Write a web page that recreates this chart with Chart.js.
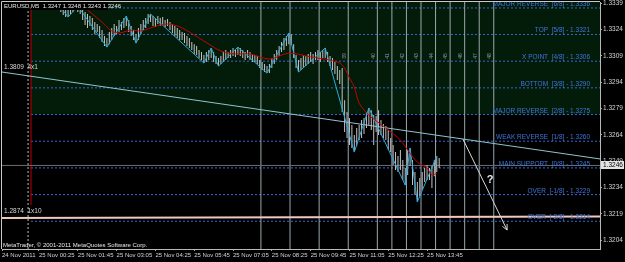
<!DOCTYPE html>
<html>
<head>
<meta charset="utf-8">
<script src="https://cdn.jsdelivr.net/npm/chart.js@4.4.0/dist/chart.umd.min.js"></script>
<style>
  html, body { margin: 0; padding: 0; background: #000; }
  canvas { display: block; }
</style>
</head>
<body>
<canvas id="chart" width="625" height="262"></canvas>
<script>
// --- data (EURUSD M5, 25 Nov 2011) ---
const firstBar = 24; // bar index of the first visible bar
const barHigh = [
  1.33384,1.33379,1.33362,1.33350,1.33362,1.33373,1.33379,1.33373,1.33373,1.33362,
  1.33350,1.33339,1.33327,1.33316,1.33305,1.33282,1.33270,1.33259,1.33236,1.33202,
  1.33191,1.33225,1.33248,1.33270,1.33259,1.33293,1.33282,1.33305,1.33316,1.33293,
  1.33259,1.33236,1.33213,1.33248,1.33270,1.33293,1.33305,1.33327,1.33327,1.33316,
  1.33305,1.33316,1.33305,1.33310,1.33293,1.33299,1.33282,1.33270,1.33259,1.33248,
  1.33236,1.33225,1.33219,1.33202,1.33191,1.33168,1.33156,1.33145,1.33122,1.33111,
  1.33094,1.33111,1.33122,1.33134,1.33111,1.33088,1.33077,1.33088,1.33111,1.33122,
  1.33111,1.33122,1.33134,1.33122,1.33139,1.33134,1.33122,1.33111,1.33122,1.33111,
  1.33100,1.33094,1.33088,1.33065,1.33054,1.33043,1.33031,1.33043,1.33077,1.33100,
  1.33122,1.33145,1.33168,1.33191,1.33202,1.33219,1.33213,1.33156,1.33094,1.33065,
  1.33077,1.33094,1.33088,1.33100,1.33111,1.33100,1.33111,1.33122,1.33111,1.33122,
  1.33134,1.33111,1.33088,1.33077,1.33054,1.33031,1.33008,1.33020,1.32837,1.32769,
  1.32735,1.32695,1.32638,1.32678,1.32695,1.32724,1.32735,1.32769,1.32792,1.32780,
  1.32752,1.32746,1.32780,1.32724,1.32701,1.32689,1.32667,1.32621,1.32581,1.32541,
  1.32519,1.32553,1.32496,1.32450,1.32553,1.32564,1.32496,1.32428,1.32370,1.32393,
  1.32428,1.32450,1.32467,1.32450,1.32462,1.32496,1.32519,1.32507
];
const barLow = [
  1.33350,1.33339,1.33322,1.33310,1.33316,1.33327,1.33339,1.33350,1.33339,1.33327,
  1.33293,1.33265,1.33248,1.33259,1.33236,1.33213,1.33225,1.33191,1.33168,1.33145,
  1.33139,1.33156,1.33179,1.33202,1.33213,1.33225,1.33236,1.33248,1.33259,1.33225,
  1.33202,1.33179,1.33162,1.33179,1.33213,1.33236,1.33248,1.33270,1.33282,1.33259,
  1.33253,1.33270,1.33259,1.33265,1.33253,1.33259,1.33236,1.33219,1.33202,1.33191,
  1.33179,1.33179,1.33162,1.33145,1.33134,1.33122,1.33100,1.33094,1.33077,1.33065,
  1.33048,1.33054,1.33065,1.33077,1.33054,1.33043,1.33031,1.33043,1.33054,1.33065,
  1.33077,1.33077,1.33088,1.33083,1.33094,1.33088,1.33077,1.33065,1.33077,1.33065,
  1.33054,1.33054,1.33043,1.33020,1.33008,1.32997,1.32991,1.32991,1.33020,1.33043,
  1.33065,1.33088,1.33111,1.33122,1.33145,1.33156,1.33151,1.33077,1.33020,1.32997,
  1.33008,1.33020,1.33031,1.33043,1.33054,1.33043,1.33065,1.33065,1.33054,1.33077,
  1.33077,1.33054,1.33031,1.33008,1.32986,1.32951,1.32929,1.32769,1.32655,1.32621,
  1.32581,1.32564,1.32541,1.32575,1.32610,1.32621,1.32644,1.32678,1.32695,1.32667,
  1.32581,1.32655,1.32638,1.32638,1.32621,1.32610,1.32553,1.32541,1.32467,1.32439,
  1.32428,1.32439,1.32382,1.32353,1.32410,1.32462,1.32353,1.32296,1.32257,1.32291,
  1.32325,1.32370,1.32382,1.32382,1.32336,1.32404,1.32428,1.32450
];

// zigzag indicator (cyan)
const zigIdx   = [24, 28, 32, 44, 52, 56, 62, 84, 87, 90, 98, 110, 119, 123, 134, 146, 152, 167, 169, 172, 180];
const zigPrice = [1.33384, 1.33310, 1.33373, 1.33139, 1.33316, 1.33162, 1.33327, 1.33048, 1.33134, 1.33031,
                  1.33139, 1.32991, 1.33219, 1.32997, 1.33134, 1.32541, 1.32792, 1.32353, 1.32564, 1.32257, 1.32519];

// moving average (red)
const maIdx   = [33, 35, 41, 46, 49, 54, 58, 62, 66, 70, 75, 82, 86, 91, 97, 103, 111, 119, 128, 136, 140, 142,
                 144, 146, 148, 152, 159, 165, 168, 172, 176, 178, 180];
const maPrice = [1.33384, 1.33362, 1.33293, 1.33231, 1.33219, 1.33236, 1.33231, 1.33248, 1.33265, 1.33270, 1.33248,
                 1.33191, 1.33156, 1.33117, 1.33100, 1.33100, 1.33071, 1.33105, 1.33083, 1.33065, 1.33048, 1.33020,
                 1.32963, 1.32912, 1.32820, 1.32752, 1.32678, 1.32610, 1.32553, 1.32484, 1.32450, 1.32410, 1.32421];

// Murrey math levels
const levelPrice = [1.33362, 1.33211, 1.33059, 1.32907, 1.32755, 1.32603, 1.32451, 1.32299, 1.32147];
const levelLabel = [
  'MAJOR REVERSE  [6/8] - 1.3336', 'TOP  [5/8] - 1.3321', 'X POINT  [4/8] - 1.3306',
  'BOTTOM  [3/8] - 1.3290', 'MAJOR REVERSE  [2/8] - 1.3275', 'WEAK REVERSE  [1/8] - 1.3260',
  'MAIN SUPPORT  [0/8] - 1.3245', 'OVER  [-1/8] - 1.3229', 'OVER  [-2/8] - 1.3214'
];

// vertical time lines and their small numbers
const timeLines = [107.5, 119.5, 131.5, 143.5, 155.5, 161.5, 167.5, 173.5, 179.5, 185.5, 191.5, 197.5, 203.5];
const timeLineText = ['', '', '', '39', '40', '41', '42', '43', '44', '45', '46', '47', '48'];

// axes
const xTickIdx = [0.75, 16, 32, 48, 64, 80, 96, 112, 128, 144, 160, 176];
const xTickLabel = ['24 Nov 2011', '25 Nov 00:25', '25 Nov 01:45', '25 Nov 03:05', '25 Nov 04:25', '25 Nov 05:45',
                    '25 Nov 07:05', '25 Nov 08:25', '25 Nov 09:45', '25 Nov 11:05', '25 Nov 12:25', '25 Nov 13:45'];
const yTickValues = [1.3339, 1.3324, 1.3309, 1.3294, 1.3279, 1.3264, 1.3249, 1.3234, 1.3219, 1.3204];
const xMin = 0.75, xMax = 247.3;
const yMin = 1.31989, yMax = 1.33396;

// drawn objects
const bidPrice = 1.32465, bidText = '1.3246';
const gannA = [1.32997, 1.32502];       // "1.3809 4x1" line, left -> right
const gannB = [1.32165, 1.32174];       // "1.2874 1x10" line
const startLineIdx = 12.7, startLineLow = 1.32240;   // red vertical
const dotLineIdx = 11.5;                             // dotted vertical
const arrowIdx = [190.8, 209], arrowPrice = [1.32615, 1.32097];
const questionAt = [202, 1.32382];

const FONT = '"Liberation Sans", Arial, sans-serif';

function seg(x1, y1, x2, y2, color, opts) {
  return Object.assign({
    type: 'line',
    data: [{ x: x1, y: y1 }, { x: x2, y: y2 }],
    borderColor: color,
    borderWidth: 1,
    pointRadius: 0,
    fill: false,
    tension: 0
  }, opts || {});
}

const datasets = [];

// green zone above MAJOR REVERSE [2/8]
datasets.push(seg(startLineIdx, levelPrice[4], xMax, levelPrice[4], 'rgba(0,0,0,0)',
  { fill: 'end', backgroundColor: '#031c09', borderWidth: 0, order: 30 }));

levelPrice.forEach(p => datasets.push(seg(startLineIdx, p, xMax, p, '#3767d0', { borderDash: [2, 2], order: 20 })));
timeLines.forEach(t => datasets.push(seg(t, yMin, t, yMax, '#9aa7ad', { order: 19 })));
datasets.push(seg(dotLineIdx, yMin, dotLineIdx, yMax, '#bdbdbd', { borderDash: [2, 2], order: 18 }));
datasets.push(seg(startLineIdx, startLineLow, startLineIdx, yMax, '#c40000', { order: 18 }));
datasets.push(seg(xMin, bidPrice, xMax, bidPrice, '#6e6e6e', { order: 17 }));
datasets.push(seg(xMin, gannB[0], xMax, gannB[1], '#efc8bf', { borderWidth: 2, order: 16 }));
datasets.push(seg(xMin, gannA[0], xMax, gannA[1], '#8fc4cc', { order: 15 }));

datasets.push({
  type: 'bar',
  data: barHigh.map((h, k) => ({ x: firstBar + k, y: [barLow[k], h] })),
  backgroundColor: '#c4c4c4',
  borderWidth: 0,
  barThickness: 1,
  inflateAmount: 0,
  grouped: false,
  order: 8
});

datasets.push({
  type: 'line',
  data: zigIdx.map((v, k) => ({ x: v, y: zigPrice[k] })),
  borderColor: '#29a9dc', borderWidth: 1, pointRadius: 0, fill: false, tension: 0, order: 6
});
datasets.push({
  type: 'line',
  data: maIdx.map((v, k) => ({ x: v, y: maPrice[k] })),
  borderColor: '#c80000', borderWidth: 1, pointRadius: 0, fill: false, tension: 0.3, order: 5
});
datasets.push(seg(arrowIdx[0], arrowPrice[0], arrowIdx[1], arrowPrice[1], '#d8d8d8', { order: 4 }));

const overlay = {
  id: 'overlay',
  beforeDraw(chart) {
    const ctx = chart.ctx;
    ctx.save();
    ctx.fillStyle = '#000';
    ctx.fillRect(0, 0, chart.width, chart.height);
    ctx.restore();
  },
  afterDatasetsDraw(chart) {
    const { ctx, chartArea: a, scales: { x, y } } = chart;
    ctx.save();

    // level captions
    ctx.font = '6.5px ' + FONT;
    ctx.fillStyle = '#4074dc';
    ctx.textAlign = 'right';
    ctx.textBaseline = 'bottom';
    levelPrice.forEach((p, k) => ctx.fillText(levelLabel[k], a.right - 10, Math.round(y.getPixelForValue(p)) - 0.5));

    // small numbers next to the time lines
    ctx.font = '5px ' + FONT;
    ctx.fillStyle = '#8797a4';
    ctx.textAlign = 'center';
    ctx.textBaseline = 'middle';
    timeLines.forEach((t, k) => {
      if (!timeLineText[k]) return;
      ctx.save();
      ctx.translate(x.getPixelForValue(t) - 4, 56);
      ctx.rotate(-Math.PI / 2);
      ctx.fillText(timeLineText[k], 0, 0);
      ctx.restore();
    });

    // arrow head
    const x1 = x.getPixelForValue(arrowIdx[0]), y1 = y.getPixelForValue(arrowPrice[0]);
    const x2 = x.getPixelForValue(arrowIdx[1]), y2 = y.getPixelForValue(arrowPrice[1]);
    const ang = Math.atan2(y2 - y1, x2 - x1);
    ctx.strokeStyle = '#d8d8d8';
    ctx.lineWidth = 1;
    ctx.beginPath();
    ctx.moveTo(x2 - 6 * Math.cos(ang - 0.45), y2 - 6 * Math.sin(ang - 0.45));
    ctx.lineTo(x2, y2);
    ctx.lineTo(x2 - 6 * Math.cos(ang + 0.45), y2 - 6 * Math.sin(ang + 0.45));
    ctx.stroke();

    // question mark
    ctx.font = 'bold 11px ' + FONT;
    ctx.fillStyle = '#e8e8e8';
    ctx.fillText('?', x.getPixelForValue(questionAt[0]), y.getPixelForValue(questionAt[1]));

    // gann line captions
    ctx.font = '6.5px ' + FONT;
    ctx.textAlign = 'left';
    ctx.textBaseline = 'middle';
    ctx.fillStyle = '#d8d8d8';
    ctx.fillText('1.3809  4x1', a.left + 2, y.getPixelForValue(gannA[0]) - 5);
    ctx.fillText('1.2874  1x10', a.left + 2, y.getPixelForValue(gannB[0]) - 7);

    // title
    ctx.font = '6px ' + FONT;
    ctx.fillStyle = '#000';
    ctx.fillRect(a.left, a.top, 106, 8);
    ctx.fillStyle = '#e8e8e8';
    ctx.fillText('EURUSD,M5  1.3247 1.3248 1.3243 1.3246', a.left + 2, a.top + 4.5);

    // copyright
    ctx.fillText('MetaTrader, \u00a9 2001-2011 MetaQuotes Software Corp.', a.left + 1, a.bottom - 3.5);

    // frame
    ctx.strokeStyle = '#c8c8c8';
    ctx.beginPath();
    ctx.moveTo(a.left - 0.5, a.bottom);
    ctx.lineTo(a.left - 0.5, a.top - 0.5);
    ctx.lineTo(a.right, a.top - 0.5);
    ctx.stroke();
    ctx.restore();
  },
  afterDraw(chart) {
    const { ctx, chartArea: a, scales: { y } } = chart;
    const py = Math.round(y.getPixelForValue(bidPrice));
    ctx.save();
    ctx.fillStyle = '#e4e4e4';
    ctx.fillRect(a.right + 1, py - 4, 23, 8);
    ctx.fillStyle = '#000';
    ctx.font = '6.5px ' + FONT;
    ctx.textAlign = 'left';
    ctx.textBaseline = 'middle';
    ctx.fillText(bidText, a.right + 3, py);
    ctx.restore();
  }
};

new Chart(document.getElementById('chart'), {
  type: 'bar',
  data: { datasets: datasets },
  options: {
    responsive: false,
    devicePixelRatio: 1,
    animation: false,
    events: [],
    layout: { padding: { left: 2, top: 2, right: 0, bottom: 0 } },
    plugins: { legend: { display: false }, tooltip: { enabled: false } },
    scales: {
      x: {
        type: 'linear', min: xMin, max: xMax, offset: false,
        afterBuildTicks: s => { s.ticks = xTickIdx.map(v => ({ value: v })); },
        afterFit: s => { s.height = 13; s.paddingLeft = 0; s.paddingRight = 0; },
        ticks: {
          autoSkip: false, maxRotation: 0, minRotation: 0, align: 'start', padding: 1,
          color: '#d4d4d4', font: { family: FONT, size: 6 },
          callback: (v, k) => xTickLabel[k]
        },
        grid: { display: true, drawOnChartArea: false, drawTicks: true, tickLength: 2, color: '#a8a8a8', offset: false },
        border: { display: true, color: '#b8b8b8' }
      },
      y: {
        type: 'linear', position: 'right', min: yMin, max: yMax, beginAtZero: false,
        afterBuildTicks: s => { s.ticks = yTickValues.map(v => ({ value: v })); },
        afterFit: s => { s.width = 25; s.paddingTop = 0; s.paddingBottom = 0; },
        ticks: {
          autoSkip: false, padding: 1, color: '#d4d4d4', font: { family: FONT, size: 6.5 },
          callback: v => v.toFixed(4)
        },
        grid: { display: true, drawOnChartArea: false, drawTicks: true, tickLength: 2, color: '#a8a8a8' },
        border: { display: true, color: '#b8b8b8' }
      }
    }
  },
  plugins: [overlay]
});
</script>
</body>
</html>
